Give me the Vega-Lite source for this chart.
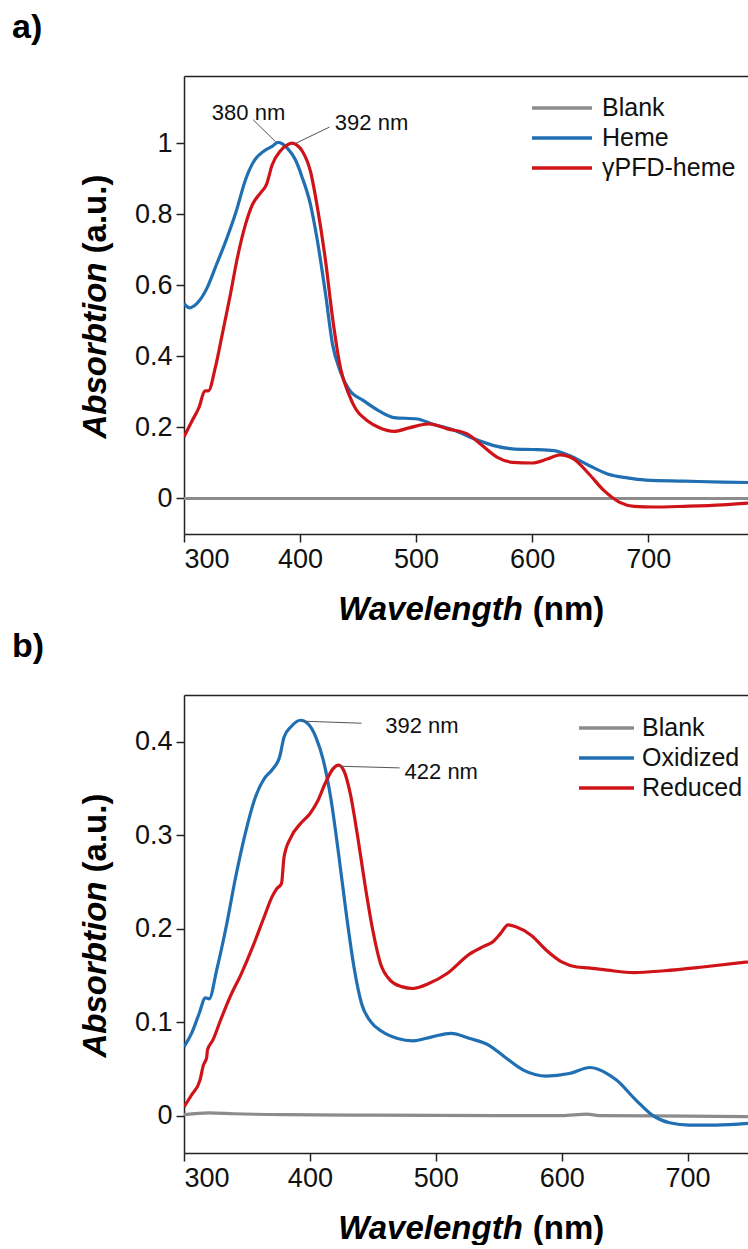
{
  "$schema": "https://vega.github.io/schema/vega-lite/v6.json",
  "padding": {"left": 12, "top": 11, "right": 0, "bottom": 0},
  "background": "white",
  "config": {
    "view": {"stroke": null},
    "font": "Liberation Sans",
    "axis": {"domainColor": "#222", "domainWidth": 1.5, "tickColor": "#222", "tickWidth": 1.5, "tickSize": 8, "labelFont": "Liberation Sans", "labelFontSize": 27, "labelColor": "#111", "labelPadding": 4, "grid": false, "titleFont": "Liberation Sans", "titleFontSize": 33, "titleFontWeight": "bold", "titleColor": "#000"},
    "legend": {"orient": "none", "title": null, "symbolType": "stroke", "symbolStrokeWidth": 3.5, "labelFont": "Liberation Sans", "labelFontSize": 25, "labelColor": "#111", "clipHeight": 28, "rowPadding": 2, "padding": 0}
  },
  "datasets": {
    "a_curves": [
      {"series": "Blank", "wl": 300, "abs": 0}, {"series": "Blank", "wl": 500, "abs": 0}, {"series": "Blank", "wl": 786, "abs": 0},
      {"series": "Heme", "wl": 300, "abs": 0.549}, {"series": "Heme", "wl": 305, "abs": 0.537}, {"series": "Heme", "wl": 313, "abs": 0.556}, {"series": "Heme", "wl": 320, "abs": 0.594}, {"series": "Heme", "wl": 328, "abs": 0.659}, {"series": "Heme", "wl": 336, "abs": 0.725}, {"series": "Heme", "wl": 345, "abs": 0.809}, {"series": "Heme", "wl": 353, "abs": 0.898}, {"series": "Heme", "wl": 361, "abs": 0.954}, {"series": "Heme", "wl": 369, "abs": 0.979}, {"series": "Heme", "wl": 376, "abs": 0.992}, {"series": "Heme", "wl": 381, "abs": 1.003}, {"series": "Heme", "wl": 389, "abs": 0.987}, {"series": "Heme", "wl": 396, "abs": 0.954}, {"series": "Heme", "wl": 402, "abs": 0.903}, {"series": "Heme", "wl": 409, "abs": 0.828}, {"series": "Heme", "wl": 415, "abs": 0.725}, {"series": "Heme", "wl": 422, "abs": 0.575}, {"series": "Heme", "wl": 428, "abs": 0.434}, {"series": "Heme", "wl": 435, "abs": 0.355}, {"series": "Heme", "wl": 442, "abs": 0.308}, {"series": "Heme", "wl": 455, "abs": 0.275}, {"series": "Heme", "wl": 468, "abs": 0.247}, {"series": "Heme", "wl": 481, "abs": 0.228}, {"series": "Heme", "wl": 501, "abs": 0.224}, {"series": "Heme", "wl": 514, "abs": 0.21}, {"series": "Heme", "wl": 534, "abs": 0.191}, {"series": "Heme", "wl": 550, "abs": 0.168}, {"series": "Heme", "wl": 567, "abs": 0.149}, {"series": "Heme", "wl": 583, "abs": 0.14}, {"series": "Heme", "wl": 600, "abs": 0.138}, {"series": "Heme", "wl": 619, "abs": 0.135}, {"series": "Heme", "wl": 632, "abs": 0.121}, {"series": "Heme", "wl": 649, "abs": 0.093}, {"series": "Heme", "wl": 665, "abs": 0.069}, {"series": "Heme", "wl": 682, "abs": 0.058}, {"series": "Heme", "wl": 698, "abs": 0.052}, {"series": "Heme", "wl": 731, "abs": 0.049}, {"series": "Heme", "wl": 764, "abs": 0.046}, {"series": "Heme", "wl": 786, "abs": 0.045},
      {"series": "γPFD-heme", "wl": 300, "abs": 0.174}, {"series": "γPFD-heme", "wl": 307, "abs": 0.219}, {"series": "γPFD-heme", "wl": 313, "abs": 0.257}, {"series": "γPFD-heme", "wl": 318, "abs": 0.303}, {"series": "γPFD-heme", "wl": 321, "abs": 0.303}, {"series": "γPFD-heme", "wl": 327, "abs": 0.369}, {"series": "γPFD-heme", "wl": 333, "abs": 0.463}, {"series": "γPFD-heme", "wl": 340, "abs": 0.575}, {"series": "γPFD-heme", "wl": 346, "abs": 0.678}, {"series": "γPFD-heme", "wl": 353, "abs": 0.772}, {"series": "γPFD-heme", "wl": 359, "abs": 0.828}, {"series": "γPFD-heme", "wl": 366, "abs": 0.861}, {"series": "γPFD-heme", "wl": 371, "abs": 0.884}, {"series": "γPFD-heme", "wl": 376, "abs": 0.94}, {"series": "γPFD-heme", "wl": 383, "abs": 0.979}, {"series": "γPFD-heme", "wl": 389, "abs": 0.996}, {"series": "γPFD-heme", "wl": 393, "abs": 1.001}, {"series": "γPFD-heme", "wl": 397, "abs": 0.996}, {"series": "γPFD-heme", "wl": 402, "abs": 0.978}, {"series": "γPFD-heme", "wl": 409, "abs": 0.921}, {"series": "γPFD-heme", "wl": 415, "abs": 0.819}, {"series": "γPFD-heme", "wl": 422, "abs": 0.669}, {"series": "γPFD-heme", "wl": 428, "abs": 0.509}, {"series": "γPFD-heme", "wl": 435, "abs": 0.365}, {"series": "γPFD-heme", "wl": 442, "abs": 0.294}, {"series": "γPFD-heme", "wl": 448, "abs": 0.252}, {"series": "γPFD-heme", "wl": 458, "abs": 0.219}, {"series": "γPFD-heme", "wl": 468, "abs": 0.2}, {"series": "γPFD-heme", "wl": 481, "abs": 0.189}, {"series": "γPFD-heme", "wl": 494, "abs": 0.199}, {"series": "γPFD-heme", "wl": 511, "abs": 0.21}, {"series": "γPFD-heme", "wl": 527, "abs": 0.196}, {"series": "γPFD-heme", "wl": 544, "abs": 0.182}, {"series": "γPFD-heme", "wl": 557, "abs": 0.149}, {"series": "γPFD-heme", "wl": 570, "abs": 0.116}, {"series": "γPFD-heme", "wl": 583, "abs": 0.102}, {"series": "γPFD-heme", "wl": 600, "abs": 0.1}, {"series": "γPFD-heme", "wl": 613, "abs": 0.111}, {"series": "γPFD-heme", "wl": 624, "abs": 0.123}, {"series": "γPFD-heme", "wl": 636, "abs": 0.111}, {"series": "γPFD-heme", "wl": 649, "abs": 0.069}, {"series": "γPFD-heme", "wl": 662, "abs": 0.022}, {"series": "γPFD-heme", "wl": 675, "abs": -0.01}, {"series": "γPFD-heme", "wl": 688, "abs": -0.022}, {"series": "γPFD-heme", "wl": 705, "abs": -0.024}, {"series": "γPFD-heme", "wl": 731, "abs": -0.022}, {"series": "γPFD-heme", "wl": 764, "abs": -0.018}, {"series": "γPFD-heme", "wl": 786, "abs": -0.013}
    ],
    "a_leaders": [
      {"x1": 359.5, "y1": 1.067, "x2": 379.2, "y2": 1.004},
      {"x1": 425.3, "y1": 1.046, "x2": 396.6, "y2": 1.001}
    ],
    "a_labels": [
      {"label": "380 nm", "wl": 324, "abs": 1.085},
      {"label": "392 nm", "wl": 430, "abs": 1.057}
    ],
    "b_curves": [
      {"series": "Blank", "wl": 300, "abs": 0.001}, {"series": "Blank", "wl": 320, "abs": 0.003}, {"series": "Blank", "wl": 340, "abs": 0.002}, {"series": "Blank", "wl": 380, "abs": 0.001}, {"series": "Blank", "wl": 450, "abs": 0.0005}, {"series": "Blank", "wl": 550, "abs": 0}, {"series": "Blank", "wl": 600, "abs": 0}, {"series": "Blank", "wl": 620, "abs": 0.0015}, {"series": "Blank", "wl": 630, "abs": 0}, {"series": "Blank", "wl": 700, "abs": -0.0005}, {"series": "Blank", "wl": 748, "abs": -0.001},
      {"series": "Oxidized", "wl": 300, "abs": 0.0736}, {"series": "Oxidized", "wl": 306, "abs": 0.088}, {"series": "Oxidized", "wl": 312, "abs": 0.109}, {"series": "Oxidized", "wl": 317, "abs": 0.126}, {"series": "Oxidized", "wl": 320, "abs": 0.125}, {"series": "Oxidized", "wl": 326, "abs": 0.156}, {"series": "Oxidized", "wl": 333.5, "abs": 0.202}, {"series": "Oxidized", "wl": 341, "abs": 0.255}, {"series": "Oxidized", "wl": 348.7, "abs": 0.302}, {"series": "Oxidized", "wl": 356, "abs": 0.338}, {"series": "Oxidized", "wl": 364, "abs": 0.361}, {"series": "Oxidized", "wl": 370, "abs": 0.37}, {"series": "Oxidized", "wl": 376, "abs": 0.384}, {"series": "Oxidized", "wl": 379.5, "abs": 0.405}, {"series": "Oxidized", "wl": 385, "abs": 0.416}, {"series": "Oxidized", "wl": 392.6, "abs": 0.423}, {"series": "Oxidized", "wl": 398.6, "abs": 0.419}, {"series": "Oxidized", "wl": 404.7, "abs": 0.405}, {"series": "Oxidized", "wl": 410.7, "abs": 0.38}, {"series": "Oxidized", "wl": 416.8, "abs": 0.338}, {"series": "Oxidized", "wl": 422.8, "abs": 0.28}, {"series": "Oxidized", "wl": 428.9, "abs": 0.216}, {"series": "Oxidized", "wl": 435, "abs": 0.159}, {"series": "Oxidized", "wl": 441, "abs": 0.12}, {"series": "Oxidized", "wl": 448.6, "abs": 0.1}, {"series": "Oxidized", "wl": 457.6, "abs": 0.0897}, {"series": "Oxidized", "wl": 469.7, "abs": 0.0825}, {"series": "Oxidized", "wl": 481.9, "abs": 0.08}, {"series": "Oxidized", "wl": 497, "abs": 0.0843}, {"series": "Oxidized", "wl": 512, "abs": 0.0879}, {"series": "Oxidized", "wl": 527, "abs": 0.0825}, {"series": "Oxidized", "wl": 542, "abs": 0.0754}, {"series": "Oxidized", "wl": 554.5, "abs": 0.063}, {"series": "Oxidized", "wl": 569.6, "abs": 0.0487}, {"series": "Oxidized", "wl": 587.8, "abs": 0.0423}, {"series": "Oxidized", "wl": 606, "abs": 0.045}, {"series": "Oxidized", "wl": 622.6, "abs": 0.0515}, {"series": "Oxidized", "wl": 636, "abs": 0.045}, {"series": "Oxidized", "wl": 643.5, "abs": 0.038}, {"series": "Oxidized", "wl": 659, "abs": 0.0166}, {"series": "Oxidized", "wl": 672.5, "abs": 0}, {"series": "Oxidized", "wl": 685.7, "abs": -0.0077}, {"series": "Oxidized", "wl": 701.6, "abs": -0.0102}, {"series": "Oxidized", "wl": 722.7, "abs": -0.0102}, {"series": "Oxidized", "wl": 748, "abs": -0.0084},
      {"series": "Reduced", "wl": 300, "abs": 0.0094}, {"series": "Reduced", "wl": 306, "abs": 0.022}, {"series": "Reduced", "wl": 312.7, "abs": 0.038}, {"series": "Reduced", "wl": 315.4, "abs": 0.054}, {"series": "Reduced", "wl": 318, "abs": 0.062}, {"series": "Reduced", "wl": 318.6, "abs": 0.07}, {"series": "Reduced", "wl": 323, "abs": 0.081}, {"series": "Reduced", "wl": 329, "abs": 0.102}, {"series": "Reduced", "wl": 336.6, "abs": 0.127}, {"series": "Reduced", "wl": 345.6, "abs": 0.152}, {"series": "Reduced", "wl": 354.7, "abs": 0.181}, {"series": "Reduced", "wl": 363.8, "abs": 0.213}, {"series": "Reduced", "wl": 369.9, "abs": 0.234}, {"series": "Reduced", "wl": 373.8, "abs": 0.243}, {"series": "Reduced", "wl": 377.4, "abs": 0.248}, {"series": "Reduced", "wl": 379.5, "abs": 0.277}, {"series": "Reduced", "wl": 385, "abs": 0.298}, {"series": "Reduced", "wl": 392.6, "abs": 0.3125}, {"series": "Reduced", "wl": 400, "abs": 0.323}, {"series": "Reduced", "wl": 406, "abs": 0.336}, {"series": "Reduced", "wl": 412, "abs": 0.355}, {"series": "Reduced", "wl": 418.3, "abs": 0.371}, {"series": "Reduced", "wl": 422.8, "abs": 0.375}, {"series": "Reduced", "wl": 427, "abs": 0.369}, {"series": "Reduced", "wl": 432, "abs": 0.345}, {"series": "Reduced", "wl": 438, "abs": 0.298}, {"series": "Reduced", "wl": 444, "abs": 0.245}, {"series": "Reduced", "wl": 450, "abs": 0.198}, {"series": "Reduced", "wl": 456, "abs": 0.163}, {"series": "Reduced", "wl": 463.7, "abs": 0.145}, {"series": "Reduced", "wl": 472.8, "abs": 0.138}, {"series": "Reduced", "wl": 481.9, "abs": 0.136}, {"series": "Reduced", "wl": 494, "abs": 0.141}, {"series": "Reduced", "wl": 509, "abs": 0.152}, {"series": "Reduced", "wl": 527, "abs": 0.173}, {"series": "Reduced", "wl": 538, "abs": 0.181}, {"series": "Reduced", "wl": 545.4, "abs": 0.186}, {"series": "Reduced", "wl": 551.5, "abs": 0.195}, {"series": "Reduced", "wl": 557.5, "abs": 0.204}, {"series": "Reduced", "wl": 563.6, "abs": 0.202}, {"series": "Reduced", "wl": 575.7, "abs": 0.193}, {"series": "Reduced", "wl": 587.8, "abs": 0.177}, {"series": "Reduced", "wl": 600, "abs": 0.1645}, {"series": "Reduced", "wl": 612, "abs": 0.159}, {"series": "Reduced", "wl": 621, "abs": 0.158}, {"series": "Reduced", "wl": 636.2, "abs": 0.1556}, {"series": "Reduced", "wl": 657.4, "abs": 0.153}, {"series": "Reduced", "wl": 681.6, "abs": 0.155}, {"series": "Reduced", "wl": 712, "abs": 0.159}, {"series": "Reduced", "wl": 748, "abs": 0.1645}
    ],
    "b_leaders": [
      {"x1": 394, "y1": 0.422, "x2": 441, "y2": 0.4198},
      {"x1": 423.4, "y1": 0.3738, "x2": 471.3, "y2": 0.372}
    ],
    "b_labels": [
      {"label": "392 nm", "wl": 459.8, "abs": 0.417},
      {"label": "422 nm", "wl": 475.2, "abs": 0.368}
    ]
  },
  "vconcat": [
    {
      "width": 564,
      "height": 458,
      "title": {"text": "a)", "anchor": "start", "frame": "group", "dx": -172, "offset": 4, "fontSize": 34, "fontWeight": "bold", "font": "Liberation Sans", "baseline": "alphabetic", "color": "#000"},
      "layer": [
        {
          "data": {"name": "a_curves"},
          "mark": {"type": "line", "strokeWidth": 3.2, "interpolate": "monotone", "clip": true},
          "encoding": {
            "x": {"field": "wl", "type": "quantitative", "scale": {"domain": [300, 786], "nice": false, "zero": false},
              "axis": {"orient": "bottom", "values": [300, 400, 500, 600, 700], "title": "Wavelength", "titleFontStyle": "italic", "titleX": 246, "titleY": 85, "titleAlign": "center", "titleBaseline": "alphabetic", "titleAngle": 0}},
            "y": {"field": "abs", "type": "quantitative", "scale": {"domain": [-0.1, 1.19], "nice": false, "zero": false},
              "axis": {"orient": "left", "values": [0, 0.2, 0.4, 0.6, 0.8, 1], "format": "~g", "title": "Absorbtion", "titleFontStyle": "italic", "titleX": -79, "titleY": 274, "titleAlign": "center", "titleBaseline": "alphabetic", "titleAngle": 270}},
            "color": {"field": "series", "type": "nominal",
              "scale": {"domain": ["Blank", "Heme", "γPFD-heme"], "range": ["#8c8c8c", "#1f6fb2", "#cf1419"]},
              "legend": {"legendX": 346, "legendY": 18, "symbolSize": 3600, "labelOffset": 8}}
          }
        },
        {
          "data": {"name": "a_leaders"},
          "mark": {"type": "rule", "color": "#555", "strokeWidth": 1},
          "encoding": {
            "x": {"field": "x1", "type": "quantitative",
              "axis": {"orient": "top", "labels": false, "ticks": false, "domain": true, "title": "(nm)", "titleFontStyle": "normal", "titleX": 384, "titleY": 543, "titleAlign": "center", "titleBaseline": "alphabetic", "titleAngle": 0}},
            "x2": {"field": "x2"},
            "y": {"field": "y1", "type": "quantitative",
              "axis": {"orient": "right", "labels": false, "ticks": false, "domain": false, "title": "(a.u.)", "titleFontStyle": "normal", "titleX": -643, "titleY": 137.5, "titleAlign": "center", "titleBaseline": "alphabetic", "titleAngle": 270}},
            "y2": {"field": "y2"}
          }
        },
        {
          "data": {"name": "a_labels"},
          "mark": {"type": "text", "align": "left", "baseline": "middle", "fontSize": 22, "font": "Liberation Sans", "color": "#111"},
          "encoding": {
            "x": {"field": "wl", "type": "quantitative", "axis": null},
            "y": {"field": "abs", "type": "quantitative", "axis": null},
            "text": {"field": "label"}
          }
        }
      ],
      "resolve": {"axis": {"x": "independent", "y": "independent"}}
    },
    {
      "width": 564,
      "height": 458,
      "title": {"text": "b)", "anchor": "start", "frame": "group", "dx": -172, "offset": 4, "fontSize": 34, "fontWeight": "bold", "font": "Liberation Sans", "baseline": "alphabetic", "color": "#000"},
      "layer": [
        {
          "data": {"name": "b_curves"},
          "mark": {"type": "line", "strokeWidth": 3.2, "interpolate": "monotone", "clip": true},
          "encoding": {
            "x": {"field": "wl", "type": "quantitative", "scale": {"domain": [300, 748], "nice": false, "zero": false},
              "axis": {"orient": "bottom", "values": [300, 400, 500, 600, 700], "title": "Wavelength", "titleFontStyle": "italic", "titleX": 246, "titleY": 85, "titleAlign": "center", "titleBaseline": "alphabetic", "titleAngle": 0}},
            "y": {"field": "abs", "type": "quantitative", "scale": {"domain": [-0.04, 0.45], "nice": false, "zero": false},
              "axis": {"orient": "left", "values": [0, 0.1, 0.2, 0.3, 0.4], "format": "~g", "title": "Absorbtion", "titleFontStyle": "italic", "titleX": -79, "titleY": 274, "titleAlign": "center", "titleBaseline": "alphabetic", "titleAngle": 270}},
            "color": {"field": "series", "type": "nominal",
              "scale": {"domain": ["Blank", "Oxidized", "Reduced"], "range": ["#8c8c8c", "#1f6fb2", "#cf1419"]},
              "legend": {"legendX": 393, "legendY": 19, "symbolSize": 3025, "labelOffset": 6}}
          }
        },
        {
          "data": {"name": "b_leaders"},
          "mark": {"type": "rule", "color": "#555", "strokeWidth": 1},
          "encoding": {
            "x": {"field": "x1", "type": "quantitative",
              "axis": {"orient": "top", "labels": false, "ticks": false, "domain": true, "title": "(nm)", "titleFontStyle": "normal", "titleX": 384, "titleY": 543, "titleAlign": "center", "titleBaseline": "alphabetic", "titleAngle": 0}},
            "x2": {"field": "x2"},
            "y": {"field": "y1", "type": "quantitative",
              "axis": {"orient": "right", "labels": false, "ticks": false, "domain": false, "title": "(a.u.)", "titleFontStyle": "normal", "titleX": -643, "titleY": 137.5, "titleAlign": "center", "titleBaseline": "alphabetic", "titleAngle": 270}},
            "y2": {"field": "y2"}
          }
        },
        {
          "data": {"name": "b_labels"},
          "mark": {"type": "text", "align": "left", "baseline": "middle", "fontSize": 22, "font": "Liberation Sans", "color": "#111"},
          "encoding": {
            "x": {"field": "wl", "type": "quantitative", "axis": null},
            "y": {"field": "abs", "type": "quantitative", "axis": null},
            "text": {"field": "label"}
          }
        }
      ],
      "resolve": {"axis": {"x": "independent", "y": "independent"}}
    }
  ],
  "spacing": 4,
  "resolve": {"scale": {"color": "independent"}, "legend": {"color": "independent"}}
}
